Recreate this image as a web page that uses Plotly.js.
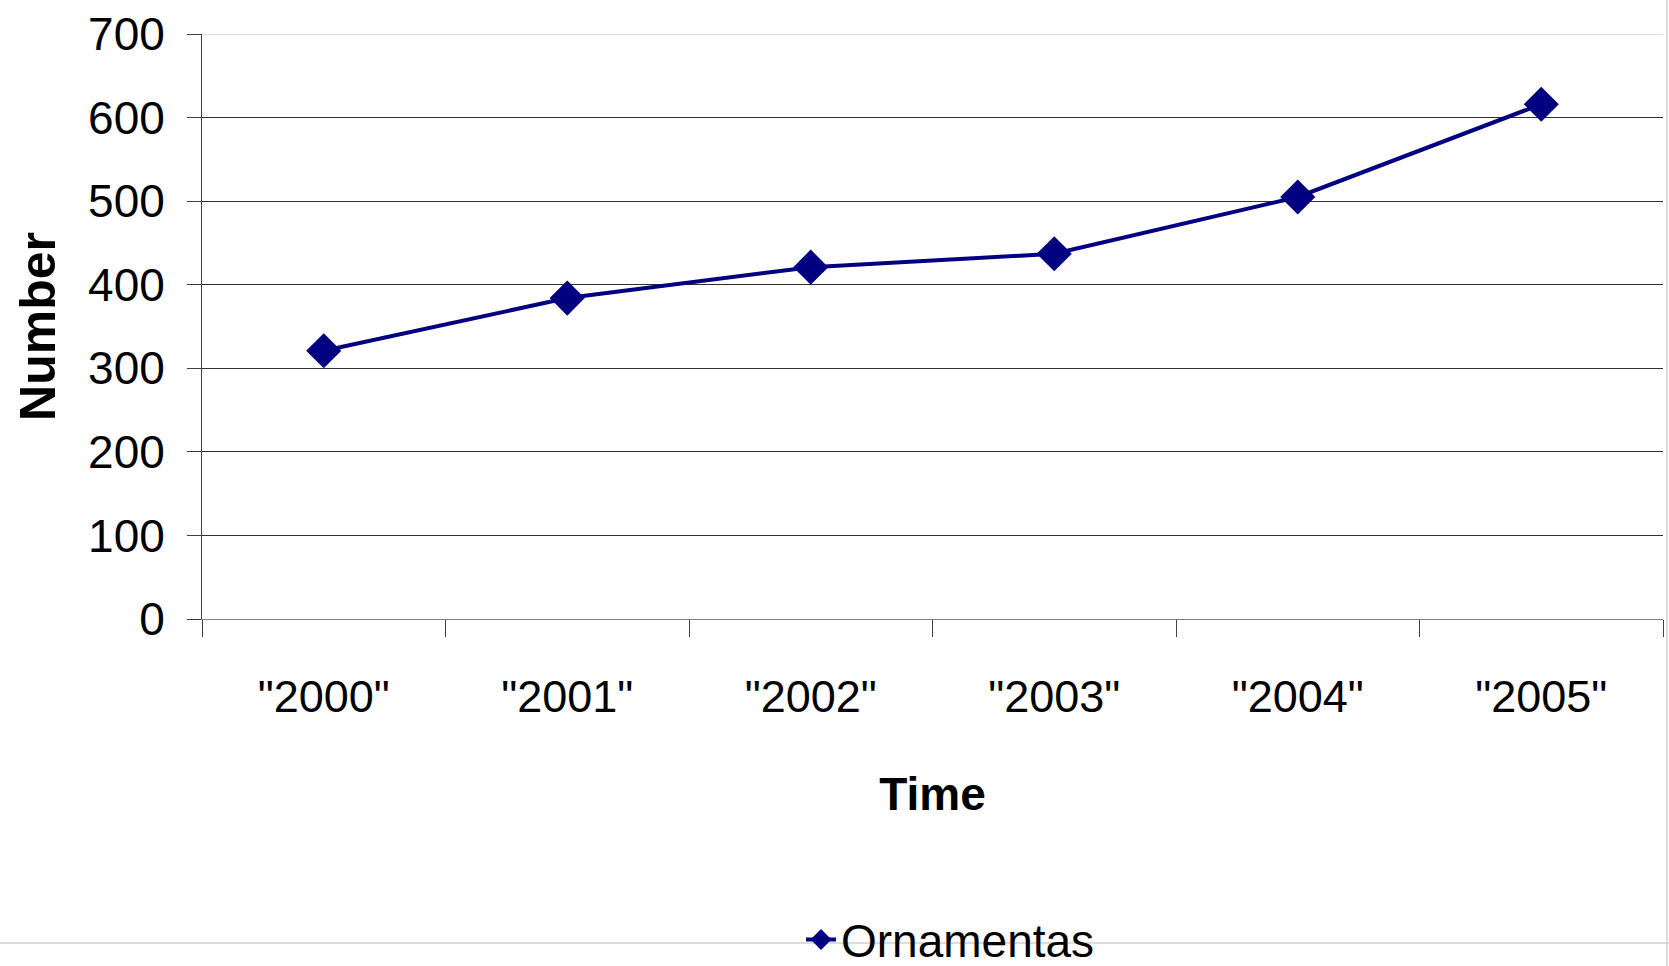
<!DOCTYPE html>
<html>
<head>
<meta charset="utf-8">
<script src="https://cdn.plot.ly/plotly-3.0.1.min.js"></script>
<style>
  html, body { margin: 0; padding: 0; background: #ffffff; }
  #chart { width: 1669px; height: 966px; }
</style>
</head>
<body>
<div id="chart"></div>
<script>
// Data
var years = ['"2000"', '"2001"', '"2002"', '"2003"', '"2004"', '"2005"'];
var ornamentas = [321, 384, 421, 437, 505, 616];
var seriesName = 'Ornamentas';
var yTicks = [0, 100, 200, 300, 400, 500, 600, 700];

var FONT = 'Liberation Sans, Arial, Helvetica, sans-serif';

var trace = {
  type: 'scatter',
  mode: 'lines+markers',
  x: years,
  y: ornamentas,
  name: seriesName,
  line: { color: '#000080', width: 4 },
  marker: { symbol: 'diamond', size: 27, color: '#000080' },
  showlegend: true
};

var layout = {
  width: 1669,
  height: 966,
  paper_bgcolor: '#ffffff',
  plot_bgcolor: '#ffffff',
  margin: { l: 202, r: 6, t: 34, b: 347, autoexpand: false },
  font: { family: FONT, color: '#000000' },
  showlegend: true,
  xaxis: {
    type: 'category',
    range: [-0.5, 5.5],
    tickson: 'boundaries',
    ticks: 'outside',
    ticklen: 17,
    tickwidth: 1,
    tickcolor: '#404040',
    showline: true,
    linecolor: '#808080',
    linewidth: 1,
    showgrid: false,
    zeroline: false,
    tickfont: { family: FONT, size: 45, color: '#000000' },
    ticklabelstandoff: 38,
    automargin: false,
    fixedrange: true,
    title: { text: 'Time', font: { family: FONT, size: 46, color: '#000000', weight: 'bold' }, standoff: 56 }
  },
  yaxis: {
    range: [0, 700],
    tickvals: yTicks,
    ticktext: yTicks.map(String),
    ticks: 'outside',
    ticklen: 14,
    tickwidth: 1,
    tickcolor: '#404040',
    showline: true,
    linecolor: '#404040',
    linewidth: 1,
    showgrid: true,
    gridcolor: '#303030',
    gridwidth: 1,
    zeroline: false,
    tickfont: { family: FONT, size: 46, color: '#000000' },
    ticklabelstandoff: 13,
    automargin: false,
    fixedrange: true,
    title: { text: 'Number', font: { family: FONT, size: 50, color: '#000000', weight: 'bold' }, standoff: 16 }
  },
  legend: {
    orientation: 'h',
    x: 0.41,
    xanchor: 'left',
    y: -0.548,
    yanchor: 'middle',
    font: { family: FONT, size: 46, color: '#000000' },
    bgcolor: 'rgba(0,0,0,0)'
  },
  shapes: [
    { type: 'line', xref: 'paper', yref: 'y', x0: 0, x1: 1, y0: 700, y1: 700,
      line: { color: '#c0c0c0', width: 1 }, layer: 'above' },
    { type: 'line', xref: 'paper', yref: 'paper', x0: -202/1461, x1: 1 + 6/1461, y0: -(943-619)/585, y1: -(943-619)/585,
      line: { color: '#d0d0d0', width: 1.5 }, layer: 'below' },
    { type: 'line', xref: 'paper', yref: 'paper', x0: 1 + 4/1461, x1: 1 + 4/1461, y0: 1 + 34/585, y1: -(966-619)/585,
      line: { color: '#d0d0d0', width: 1.5 }, layer: 'below' }
  ]
};

Plotly.newPlot('chart', [trace], layout, { displayModeBar: false, staticPlot: true });
</script>
</body>
</html>
